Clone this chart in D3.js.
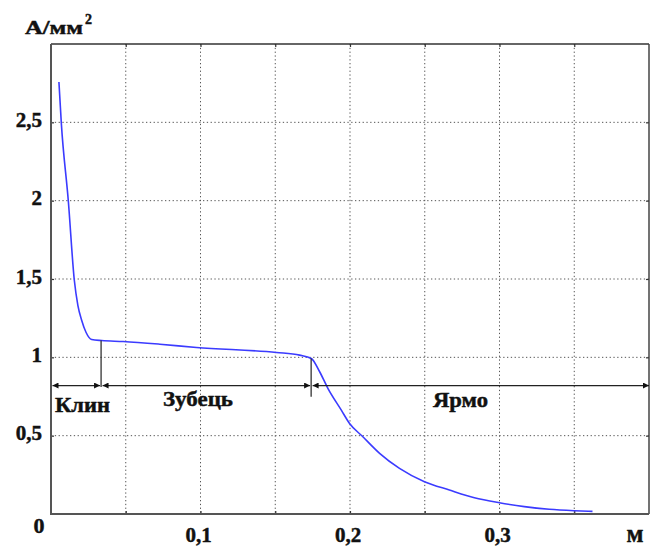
<!DOCTYPE html>
<html>
<head>
<meta charset="utf-8">
<script src="https://cdn.jsdelivr.net/npm/d3@7/dist/d3.min.js"></script>
<style>
  html, body { margin: 0; padding: 0; background: #fff; }
  svg { display: block; }
</style>
</head>
<body>
<svg id="chart" width="652" height="547"></svg>
<script>
// ---- data ----
const curveX = [0.0053, 0.0069, 0.0116, 0.0156, 0.018, 0.0205, 0.0234, 0.0272, 0.0339, 0.0483,
                0.0728, 0.0973, 0.1508, 0.1663, 0.1741, 0.1797, 0.1852, 0.1942, 0.1997, 0.2086,
                0.2198, 0.2331, 0.2498, 0.2665, 0.2832, 0.2999, 0.3166, 0.3333, 0.35, 0.3622];
const curveY = [2.757, 2.495, 1.996, 1.492, 1.33, 1.237, 1.16, 1.114, 1.107, 1.101,
                1.084, 1.063, 1.031, 1.014, 0.993, 0.908, 0.802, 0.663, 0.578, 0.493,
                0.387, 0.291, 0.206, 0.153, 0.104, 0.072, 0.047, 0.03, 0.021, 0.017];
const xGrid = [0.05, 0.1, 0.15, 0.2, 0.25, 0.3, 0.35];
const xTickLabels = [[0.1, "0,1"], [0.2, "0,2"], [0.3, "0,3"]];
const yGrid = [0.5, 1, 1.5, 2, 2.5];
const yTickLabels = [[0.5, "0,5"], [1, "1"], [1.5, "1,5"], [2, "2"], [2.5, "2,5"]];
const sectionBounds = [0, 0.0335, 0.174, 0.4];
const sectionNames = ["Клин", "Зубець", "Ярмо"];
const sectionLevel = 0.82;
const yUnit = "А/мм";
const xUnit = "м";

// ---- layout ----
const FONT = "'Liberation Serif', 'Times New Roman', serif";
const svg = d3.select("#chart");
const L = 51, R = 649, T = 44, B = 514;
const x = d3.scaleLinear().domain([0, 0.4]).range([L, R]);
const y = d3.scaleLinear().domain([0, 3]).range([B, T]);
const axisColor = "#555";

const txt = (sel) => sel.attr("font-family", FONT).attr("font-weight", "bold")
  .attr("fill", "#111").attr("stroke", "#111").attr("stroke-width", 0.45);

// grid
svg.append("g").selectAll("line").data(xGrid).join("line")
  .attr("x1", d => x(d)).attr("x2", d => x(d)).attr("y1", T).attr("y2", B)
  .attr("stroke", "#555").attr("stroke-width", 1).attr("stroke-dasharray", "1.3,2.5");
svg.append("g").selectAll("line").data(yGrid).join("line")
  .attr("y1", d => y(d)).attr("y2", d => y(d)).attr("x1", L).attr("x2", R)
  .attr("stroke", "#555").attr("stroke-width", 1).attr("stroke-dasharray", "1.3,2.5");

// axes via d3 axis (inner ticks)
const gx = svg.append("g").attr("transform", `translate(0,${B})`)
  .call(d3.axisBottom(x).tickValues(xGrid).tickSize(-3).tickFormat(""));
const gxTop = svg.append("g").attr("transform", `translate(0,${T})`)
  .call(d3.axisTop(x).tickValues(xGrid).tickSize(-3).tickFormat(""));
const gy = svg.append("g").attr("transform", `translate(${L},0)`)
  .call(d3.axisLeft(y).tickValues(yGrid).tickSize(-3).tickFormat(""));
const gyR = svg.append("g").attr("transform", `translate(${R},0)`)
  .call(d3.axisRight(y).tickValues(yGrid).tickSize(-3).tickFormat(""));
[gx, gxTop, gy, gyR].forEach(g => {
  g.select(".domain").remove();
  g.selectAll(".tick line").attr("stroke", "#333").attr("stroke-width", 1.2);
});

// frame
svg.append("line").attr("x1", L).attr("x2", R).attr("y1", T).attr("y2", T).attr("stroke", "#333").attr("stroke-width", 1.5);
svg.append("line").attr("x1", R).attr("x2", R).attr("y1", T).attr("y2", B).attr("stroke", "#444").attr("stroke-width", 1.5);
svg.append("line").attr("x1", L).attr("x2", L).attr("y1", T).attr("y2", B + 1).attr("stroke", axisColor).attr("stroke-width", 2);
svg.append("line").attr("x1", L - 1).attr("x2", R).attr("y1", B).attr("y2", B).attr("stroke", axisColor).attr("stroke-width", 2);

// tick labels
svg.append("g").selectAll("text").data(yTickLabels).join("text")
  .call(txt)
  .attr("x", 42).attr("y", d => y(d[0]) + 4.5).attr("text-anchor", "end")
  .attr("font-size", 21).text(d => d[1]);
svg.append("g").selectAll("text").data(xTickLabels).join("text")
  .call(txt)
  .attr("x", d => x(d[0]) - 2).attr("y", 542).attr("text-anchor", "middle")
  .attr("font-size", 21).text(d => d[1]);
svg.append("text").call(txt).attr("x", 39).attr("y", 533).attr("text-anchor", "middle")
  .attr("font-size", 22).text("0");

// units
svg.append("text").call(txt).attr("x", 25).attr("y", 33.5).attr("font-size", 19)
  .attr("textLength", 58).attr("lengthAdjust", "spacingAndGlyphs").text(yUnit);
svg.append("text").call(txt).attr("x", 85).attr("y", 24).attr("font-size", 14).text("2");
svg.append("text").call(txt).attr("x", 635).attr("y", 542).attr("text-anchor", "middle")
  .attr("font-size", 25).text(xUnit);

// curve
const pts = curveX.map((v, i) => [v, curveY[i]]);
svg.append("path").datum(pts)
  .attr("fill", "none").attr("stroke", "#3b3bff").attr("stroke-width", 1.6)
  .attr("d", d3.line().x(d => x(d[0])).y(d => y(d[1])).curve(d3.curveMonotoneX));

// section annotations
const defs = svg.append("defs");
defs.append("marker").attr("id", "arrEnd").attr("viewBox", "0 0 10 10")
  .attr("refX", 10).attr("refY", 5).attr("markerWidth", 7).attr("markerHeight", 6)
  .attr("markerUnits", "userSpaceOnUse").attr("orient", "auto")
  .append("path").attr("d", "M0,0 L10,5 L0,10 Z").attr("fill", "#111");
defs.append("marker").attr("id", "arrStart").attr("viewBox", "0 0 10 10")
  .attr("refX", 0).attr("refY", 5).attr("markerWidth", 7).attr("markerHeight", 6)
  .attr("markerUnits", "userSpaceOnUse").attr("orient", "auto")
  .append("path").attr("d", "M10,0 L0,5 L10,10 Z").attr("fill", "#111");

const segs = sectionNames.map((n, i) => ({ name: n, a: sectionBounds[i], b: sectionBounds[i + 1] }));
svg.append("g").selectAll("line").data(segs).join("line")
  .attr("x1", d => x(d.a) + 1.5).attr("x2", d => x(d.b) - (d.b === 0.4 ? 0 : 1))
  .attr("y1", y(sectionLevel)).attr("y2", y(sectionLevel))
  .attr("stroke", "#222").attr("stroke-width", 1.3)
  .attr("marker-start", "url(#arrStart)").attr("marker-end", "url(#arrEnd)");

// vertical dividers from the curve down to the annotation line
const curveAt = xv => {
  const i = d3.bisectLeft(curveX, xv);
  const x0 = curveX[i - 1], x1 = curveX[i];
  const t = (xv - x0) / (x1 - x0);
  return curveY[i - 1] + t * (curveY[i] - curveY[i - 1]);
};
const dividerBottoms = [sectionLevel - 0.01, 0.748];
svg.append("g").selectAll("line").data([sectionBounds[1], sectionBounds[2]]).join("line")
  .attr("x1", d => x(d)).attr("x2", d => x(d))
  .attr("y1", d => y(curveAt(d)))
  .attr("y2", (d, i) => y(dividerBottoms[i]))
  .attr("stroke", "#222").attr("stroke-width", 1.2);

// section names
svg.append("text").call(txt).attr("x", 55).attr("y", 411.5).attr("font-size", 21)
  .attr("textLength", 55).attr("lengthAdjust", "spacingAndGlyphs").text(sectionNames[0]);
svg.append("text").call(txt).attr("x", 163).attr("y", 405.5).attr("font-size", 21)
  .attr("textLength", 70).attr("lengthAdjust", "spacingAndGlyphs").text(sectionNames[1]);
svg.append("text").call(txt).attr("x", 433).attr("y", 407).attr("font-size", 21)
  .attr("textLength", 55).attr("lengthAdjust", "spacingAndGlyphs").text(sectionNames[2]);
</script>
</body>
</html>
